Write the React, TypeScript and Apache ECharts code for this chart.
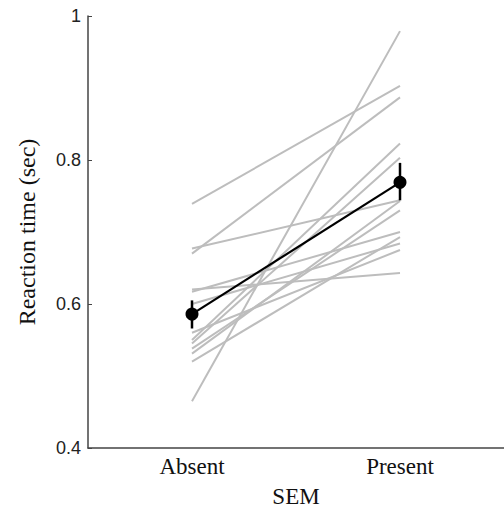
import React, { useEffect, useRef } from "react";
import * as echarts from "echarts";

const categories = ["Absent", "Present"];
const absentRT = [0.739, 0.670, 0.677, 0.465, 0.620, 0.617, 0.600, 0.550, 0.545, 0.538, 0.531, 0.520, 0.560];
const presentRT = [0.903, 0.887, 0.744, 0.979, 0.643, 0.700, 0.684, 0.823, 0.803, 0.730, 0.743, 0.693, 0.675];
const meanRT = [0.586, 0.769];
const semLow = [0.566, 0.744];
const semHigh = [0.605, 0.796];
const yTicks = [0.4, 0.6, 0.8, 1];

export default function App() {
  const ref = useRef<HTMLDivElement>(null);
  useEffect(() => {
    if (!ref.current) return;
    const chart = echarts.init(ref.current, null, { renderer: "svg" });
    const subjectSeries = absentRT.map((a, i) => ({
      type: "line",
      name: "S" + (i + 1),
      data: [a, presentRT[i]],
      symbol: "none",
      lineStyle: { color: "#bdbdbd", width: 2 },
      z: 1,
      silent: true,
    }));
    chart.setOption({
      animation: false,
      backgroundColor: "#ffffff",
      grid: { left: 88, right: 0, top: 16, bottom: 59 },
      xAxis: {
        type: "category",
        data: categories,
        boundaryGap: true,
        name: "SEM",
        nameLocation: "middle",
        nameGap: 37,
        nameTextStyle: { fontFamily: "Liberation Serif", fontSize: 23, color: "#111" },
        axisLine: { lineStyle: { color: "#444", width: 1.5 } },
        axisTick: { inside: true, length: 4, alignWithLabel: true, lineStyle: { color: "#444" } },
        axisLabel: { fontFamily: "Liberation Serif", fontSize: 23, color: "#111", margin: 7 },
        splitLine: { show: false },
      },
      yAxis: {
        type: "value",
        min: 0.4,
        max: 1,
        interval: 0.2,
        name: "Reaction time (sec)",
        nameLocation: "middle",
        nameGap: 49,
        nameTextStyle: { fontFamily: "Liberation Serif", fontSize: 24, color: "#111" },
        axisLine: { show: true, lineStyle: { color: "#444", width: 1.5 } },
        axisTick: { show: true, inside: true, length: 4, lineStyle: { color: "#444" } },
        axisLabel: {
          fontFamily: "Liberation Sans",
          fontSize: 18,
          color: "#222",
          margin: 7,
          formatter: (v: number) => {
            const t = yTicks.find((k) => Math.abs(k - v) < 1e-6);
            return t === 1 ? "1" : (t ?? v).toFixed(1);
          },
        },
        splitLine: { show: false },
      },
      series: [
        ...subjectSeries,
        {
          type: "custom",
          z: 5,
          data: categories.map((_, i) => [i, semLow[i], semHigh[i]]),
          renderItem: (params: any, api: any) => {
            const p1 = api.coord([api.value(0), api.value(1)]);
            const p2 = api.coord([api.value(0), api.value(2)]);
            return {
              type: "line",
              shape: { x1: p1[0], y1: p1[1], x2: p2[0], y2: p2[1] },
              style: { stroke: "#000", lineWidth: 2.5 },
            };
          },
        },
        {
          type: "line",
          data: meanRT,
          symbol: "circle",
          symbolSize: 13,
          itemStyle: { color: "#000" },
          lineStyle: { color: "#000", width: 2.2 },
          z: 10,
        },
      ],
    });
    return () => chart.dispose();
  }, []);
  return (
    <div
      ref={ref}
      style={{ position: "fixed", left: 0, top: 0, width: 504, height: 513, background: "#fff" }}
    />
  );
}
